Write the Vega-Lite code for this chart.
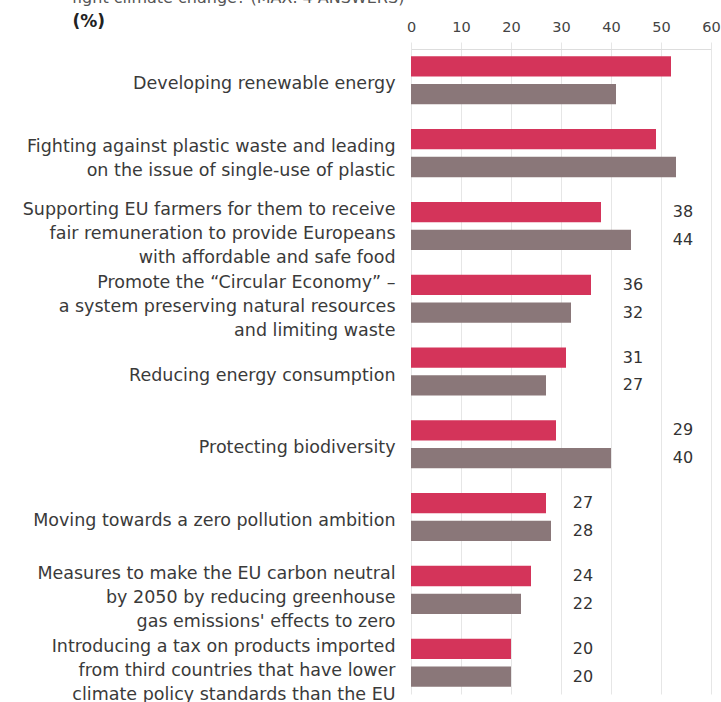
{
  "$schema": "https://vega.github.io/schema/vega-lite/v6.json",
  "autosize": {"type": "none"},
  "padding": {"left": 411, "top": 49, "right": 10, "bottom": 8},
  "width": 300,
  "height": 645,
  "background": "white",
  "config": {
    "font": "DejaVu Sans",
    "view": {"stroke": null}
  },
  "title": {
    "text": "fight climate change? (MAX. 4 ANSWERS)",
    "anchor": "start",
    "frame": "group",
    "dx": -339,
    "offset": 0,
    "dy": -6,
    "font": "DejaVu Sans",
    "fontSize": 16,
    "fontWeight": "normal",
    "color": "#555555"
  },
  "data": {
    "values": [
      {"category": "Developing renewable energy", "series": "A", "value": 52},
      {"category": "Developing renewable energy", "series": "B", "value": 41},
      {"category": "Fighting against plastic waste and leading|on the issue of single-use of plastic", "series": "A", "value": 49},
      {"category": "Fighting against plastic waste and leading|on the issue of single-use of plastic", "series": "B", "value": 53},
      {"category": "Supporting EU farmers for them to receive|fair remuneration to provide Europeans|with affordable and safe food", "series": "A", "value": 38},
      {"category": "Supporting EU farmers for them to receive|fair remuneration to provide Europeans|with affordable and safe food", "series": "B", "value": 44},
      {"category": "Promote the “Circular Economy” –|a system preserving natural resources|and limiting waste", "series": "A", "value": 36},
      {"category": "Promote the “Circular Economy” –|a system preserving natural resources|and limiting waste", "series": "B", "value": 32},
      {"category": "Reducing energy consumption", "series": "A", "value": 31},
      {"category": "Reducing energy consumption", "series": "B", "value": 27},
      {"category": "Protecting biodiversity", "series": "A", "value": 29},
      {"category": "Protecting biodiversity", "series": "B", "value": 40},
      {"category": "Moving towards a zero pollution ambition", "series": "A", "value": 27},
      {"category": "Moving towards a zero pollution ambition", "series": "B", "value": 28},
      {"category": "Measures to make the EU carbon neutral|by 2050 by reducing greenhouse|gas emissions' effects to zero", "series": "A", "value": 24},
      {"category": "Measures to make the EU carbon neutral|by 2050 by reducing greenhouse|gas emissions' effects to zero", "series": "B", "value": 22},
      {"category": "Introducing a tax on products imported|from third countries that have lower|climate policy standards than the EU", "series": "A", "value": 20},
      {"category": "Introducing a tax on products imported|from third countries that have lower|climate policy standards than the EU", "series": "B", "value": 20}
    ]
  },
  "encoding": {
    "y": {
      "field": "category",
      "type": "nominal",
      "sort": null,
      "scale": {"paddingInner": 0.34, "paddingOuter": 0.1},
      "axis": {
        "title": null,
        "domain": false,
        "ticks": false,
        "grid": false,
        "labelPadding": 16,
        "labelFont": "DejaVu Sans",
        "labelFontSize": 17.5,
        "labelColor": "#3a3a3a",
        "labelLineHeight": 24,
        "labelLimit": 420,
        "labelOffset": {
          "condition": [
            {"test": "indexof(datum.label, '|') < 0", "value": 4},
            {"test": "length(split(datum.label, '|')) == 2", "value": -6}
          ],
          "value": -16
        },
        "labelExpr": "split(datum.label, '|')"
      }
    },
    "yOffset": {
      "field": "series",
      "type": "nominal",
      "sort": ["A", "B"],
      "scale": {"paddingInner": 0.27, "paddingOuter": 0}
    }
  },
  "layer": [
    {
      "mark": {"type": "bar"},
      "encoding": {
        "x": {
          "field": "value",
          "type": "quantitative",
          "scale": {"domain": [0, 60], "nice": false},
          "axis": {
            "orient": "top",
            "values": [0, 10, 20, 30, 40, 50, 60],
            "title": "(%)",
            "titleX": -339,
            "titleY": -28,
            "titleAlign": "left",
            "titleBaseline": "middle",
            "titleAngle": 0,
            "titleFont": "DejaVu Sans",
            "titleFontSize": 17,
            "titleFontWeight": "bold",
            "titleColor": "#222222",
            "grid": true,
            "gridColor": "#e6e6e6",
            "domainColor": "#dddddd",
            "tickColor": "#e6e6e6",
            "tickSize": 7,
            "labelPadding": 8,
            "labelFont": "DejaVu Sans",
            "labelFontSize": 14.5,
            "labelColor": "#444444",
            "labelFlush": false
          }
        },
        "color": {
          "field": "series",
          "type": "nominal",
          "scale": {"domain": ["A", "B"], "range": ["#d4345a", "#8a7779"]},
          "legend": null
        }
      }
    },
    {
      "transform": [
        {"joinaggregate": [{"op": "max", "field": "value", "as": "gmax"}], "groupby": ["category"]},
        {"bin": {"step": 10, "extent": [0, 70]}, "field": "gmax", "as": ["b0", "b1"]}
      ],
      "mark": {"type": "text", "dx": 22, "align": "center", "baseline": "middle", "font": "DejaVu Sans", "fontSize": 16, "color": "#333333"},
      "encoding": {
        "x": {"field": "b1", "type": "quantitative", "title": "(%)"},
        "text": {"field": "value", "type": "quantitative"}
      }
    }
  ]
}
